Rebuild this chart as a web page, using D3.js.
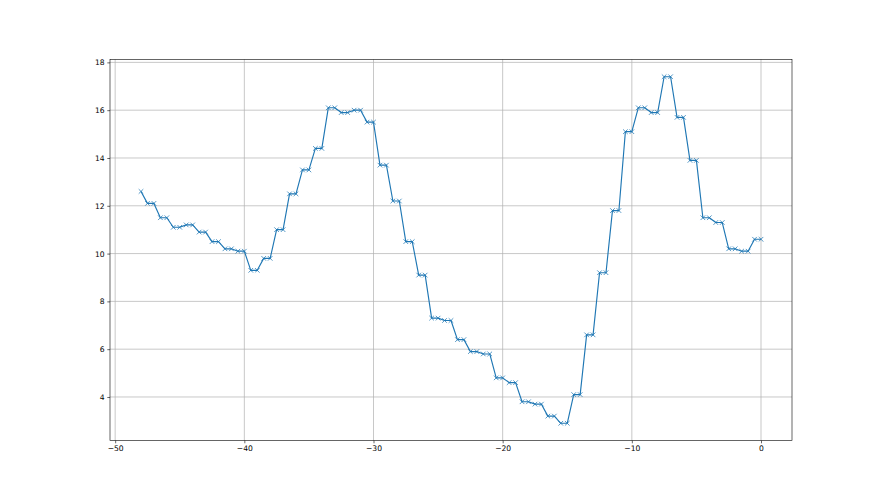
<!DOCTYPE html>
<html><head><meta charset="utf-8">
<script src="https://cdn.jsdelivr.net/npm/d3@7"></script>
<style>body{margin:0;background:#fff;} svg{display:block;}</style>
</head><body>
<svg id="c" width="880" height="495"></svg>
<script>
// x positions: -48 to 0 in half steps
const xValues = [-48,-47.5,-47,-46.5,-46,-45.5,-45,-44.5,-44,-43.5,-43,-42.5,-42,-41.5,-41,-40.5,-40,-39.5,-39,-38.5,-38,-37.5,-37,-36.5,-36,-35.5,-35,-34.5,-34,-33.5,-33,-32.5,-32,-31.5,-31,-30.5,-30,-29.5,-29,-28.5,-28,-27.5,-27,-26.5,-26,-25.5,-25,-24.5,-24,-23.5,-23,-22.5,-22,-21.5,-21,-20.5,-20,-19.5,-19,-18.5,-18,-17.5,-17,-16.5,-16,-15.5,-15,-14.5,-14,-13.5,-13,-12.5,-12,-11.5,-11,-10.5,-10,-9.5,-9,-8.5,-8,-7.5,-7,-6.5,-6,-5.5,-5,-4.5,-4,-3.5,-3,-2.5,-2,-1.5,-1,-0.5,0];
const yValues = [12.6,12.1,12.1,11.5,11.5,11.1,11.1,11.2,11.2,10.9,10.9,10.5,10.5,10.2,10.2,10.1,10.1,9.3,9.3,9.8,9.8,11.0,11.0,12.5,12.5,13.5,13.5,14.4,14.4,16.1,16.1,15.9,15.9,16.0,16.0,15.5,15.5,13.7,13.7,12.2,12.2,10.5,10.5,9.1,9.1,7.3,7.3,7.2,7.2,6.4,6.4,5.9,5.9,5.8,5.8,4.8,4.8,4.6,4.6,3.8,3.8,3.7,3.7,3.2,3.2,2.9,2.9,4.1,4.1,6.6,6.6,9.2,9.2,11.8,11.8,15.1,15.1,16.1,16.1,15.9,15.9,17.4,17.4,15.7,15.7,13.9,13.9,11.5,11.5,11.3,11.3,10.2,10.2,10.1,10.1,10.6,10.6];
const xTicks = [-50,-40,-30,-20,-10,0];
const yTicks = [4,6,8,10,12,14,16,18];

(function () {
const mL = 110, mR = 792, mT = 59.4, mB = 440.6;
const svg = d3.select("#c");

const xmin = d3.min(xValues), xmax = d3.max(xValues);
const ymin = d3.min(yValues), ymax = d3.max(yValues);
const xm = (xmax - xmin) * 0.05, ym = (ymax - ymin) * 0.05;
const x = d3.scaleLinear().domain([xmin - xm, xmax + xm]).range([mL, mR]);
const y = d3.scaleLinear().domain([ymin - ym, ymax + ym]).range([mB, mT]);

const fmt = d => (d < 0 ? "\u2212" + Math.abs(d) : String(d));

// grid
const g = svg.append("g");
g.selectAll("line.gx").data(xTicks).join("line").attr("class", "gx")
  .attr("x1", d => x(d)).attr("x2", d => x(d)).attr("y1", mT).attr("y2", mB)
  .attr("stroke", "#b0b0b0").attr("stroke-width", 0.7);
g.selectAll("line.gy").data(yTicks).join("line").attr("class", "gy")
  .attr("y1", d => y(d)).attr("y2", d => y(d)).attr("x1", mL).attr("x2", mR)
  .attr("stroke", "#b0b0b0").attr("stroke-width", 0.7);

// line
const pts = xValues.map((v, i) => [v, yValues[i]]);
svg.append("path").datum(pts)
  .attr("fill", "none").attr("stroke", "#1f77b4").attr("stroke-width", 1.15)
  .attr("stroke-linejoin", "round")
  .attr("d", d3.line().x(d => x(d[0])).y(d => y(d[1])));

// x markers
const ms = 2.3;
svg.append("g").selectAll("path").data(pts).join("path")
  .attr("d", d => {
    const cx = x(d[0]), cy = y(d[1]);
    return `M${cx-ms},${cy-ms}L${cx+ms},${cy+ms}M${cx-ms},${cy+ms}L${cx+ms},${cy-ms}`;
  })
  .attr("stroke", "#1f77b4").attr("stroke-width", 0.76).attr("fill", "none");

// axes
const xAxis = d3.axisBottom(x).tickValues(xTicks).tickFormat(fmt).tickSize(2.7).tickPadding(2.7);
const yAxis = d3.axisLeft(y).tickValues(yTicks).tickFormat(fmt).tickSize(2.7).tickPadding(2.7);
const ax = svg.append("g").attr("transform", `translate(0,${mB})`).call(xAxis);
const ay = svg.append("g").attr("transform", `translate(${mL},0)`).call(yAxis);
[ax, ay].forEach(a => {
  a.select(".domain").remove();
  a.selectAll(".tick line").attr("stroke", "#000").attr("stroke-width", 0.6);
  a.selectAll(".tick text").attr("fill", "#000").style("font-family", "DejaVu Sans").style("font-size", "7.6px");
});

// spines
svg.append("rect").attr("x", mL).attr("y", mT).attr("width", mR - mL).attr("height", mB - mT)
  .attr("fill", "none").attr("stroke", "#000").attr("stroke-width", 0.6);
})();
</script>
</body></html>
